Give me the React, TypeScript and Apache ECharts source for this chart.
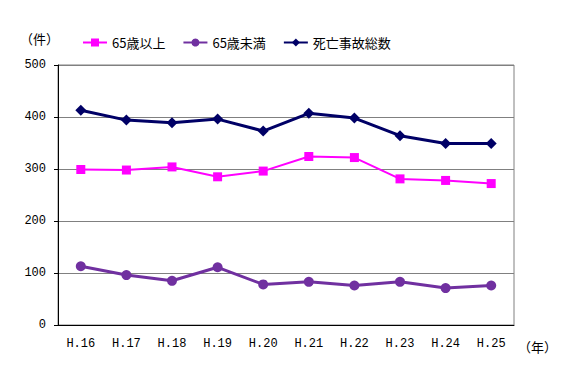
import React, { useEffect, useRef } from "react";
import * as echarts from "echarts";

const categories = ["H.16", "H.17", "H.18", "H.19", "H.20", "H.21", "H.22", "H.23", "H.24", "H.25"];
const over65 = [299, 298, 304, 285, 296, 324, 322, 281, 278, 272];
const under65 = [113, 96, 85, 111, 78, 83, 76, 83, 71, 76];
const total = [413, 394, 389, 396, 373, 407, 398, 364, 349, 349];
const seriesNames = ["65歳以上", "65歳未満", "死亡事故総数"];
const yTicks = { min: 0, max: 500, interval: 100 };

const mono = "'Liberation Mono', 'DejaVu Sans Mono', monospace";
const cjk = "'Noto Sans CJK JP', 'Noto Sans', sans-serif";

export default function App() {
  const ref = useRef<HTMLDivElement>(null);
  useEffect(() => {
    document.body.style.margin = "0";
    const chart = echarts.init(ref.current!, null, { renderer: "svg" });
    chart.setOption({
      animation: false,
      backgroundColor: "#ffffff",
      grid: {
        left: 58,
        right: 55,
        top: 65,
        bottom: 49,
        show: true,
        borderColor: "#808080",
        borderWidth: 1,
      },
      legend: {
        left: 77,
        top: 31,
        itemWidth: 24,
        itemHeight: 10,
        itemGap: 17,
        textStyle: { fontFamily: cjk, fontSize: 13, color: "#000" },
        data: seriesNames,
      },
      xAxis: {
        type: "category",
        data: categories,
        boundaryGap: true,
        axisLine: { lineStyle: { color: "#000", width: 1 } },
        axisTick: { inside: true, length: 5, lineStyle: { color: "#000" } },
        axisLabel: { fontFamily: mono, fontSize: 12, color: "#000", margin: 13 },
        splitLine: { show: false },
      },
      yAxis: {
        type: "value",
        min: yTicks.min,
        max: yTicks.max,
        interval: yTicks.interval,
        axisLine: { show: true, lineStyle: { color: "#000", width: 1 } },
        axisTick: { show: true, length: 4, lineStyle: { color: "#000" } },
        axisLabel: { fontFamily: mono, fontSize: 12, color: "#000", margin: 12 },
        splitLine: { lineStyle: { color: "#808080", width: 1 } },
      },
      graphic: [
        { type: "text", left: 20, top: 32, style: { text: "（件）", fontFamily: cjk, fontSize: 13, fill: "#000" } },
        { type: "text", left: 518, top: 340, style: { text: "（年）", fontFamily: cjk, fontSize: 13, fill: "#000" } },
      ],
      series: [
        {
          name: seriesNames[0],
          type: "line",
          data: over65,
          symbol: "rect",
          symbolSize: 9,
          color: "#FF00FF",
          lineStyle: { color: "#FF00FF", width: 2 },
          itemStyle: { color: "#FF00FF" },
          z: 3,
        },
        {
          name: seriesNames[1],
          type: "line",
          data: under65,
          symbol: "circle",
          symbolSize: 10,
          color: "#7030A0",
          lineStyle: { color: "#7030A0", width: 3 },
          itemStyle: { color: "#7030A0" },
          z: 3,
        },
        {
          name: seriesNames[2],
          type: "line",
          data: total,
          symbol: "diamond",
          symbolSize: 11,
          color: "#000066",
          lineStyle: { color: "#000066", width: 3 },
          itemStyle: { color: "#000066" },
          z: 3,
        },
      ],
    });
    return () => chart.dispose();
  }, []);
  return <div ref={ref} style={{ width: 569, height: 374 }} />;
}
